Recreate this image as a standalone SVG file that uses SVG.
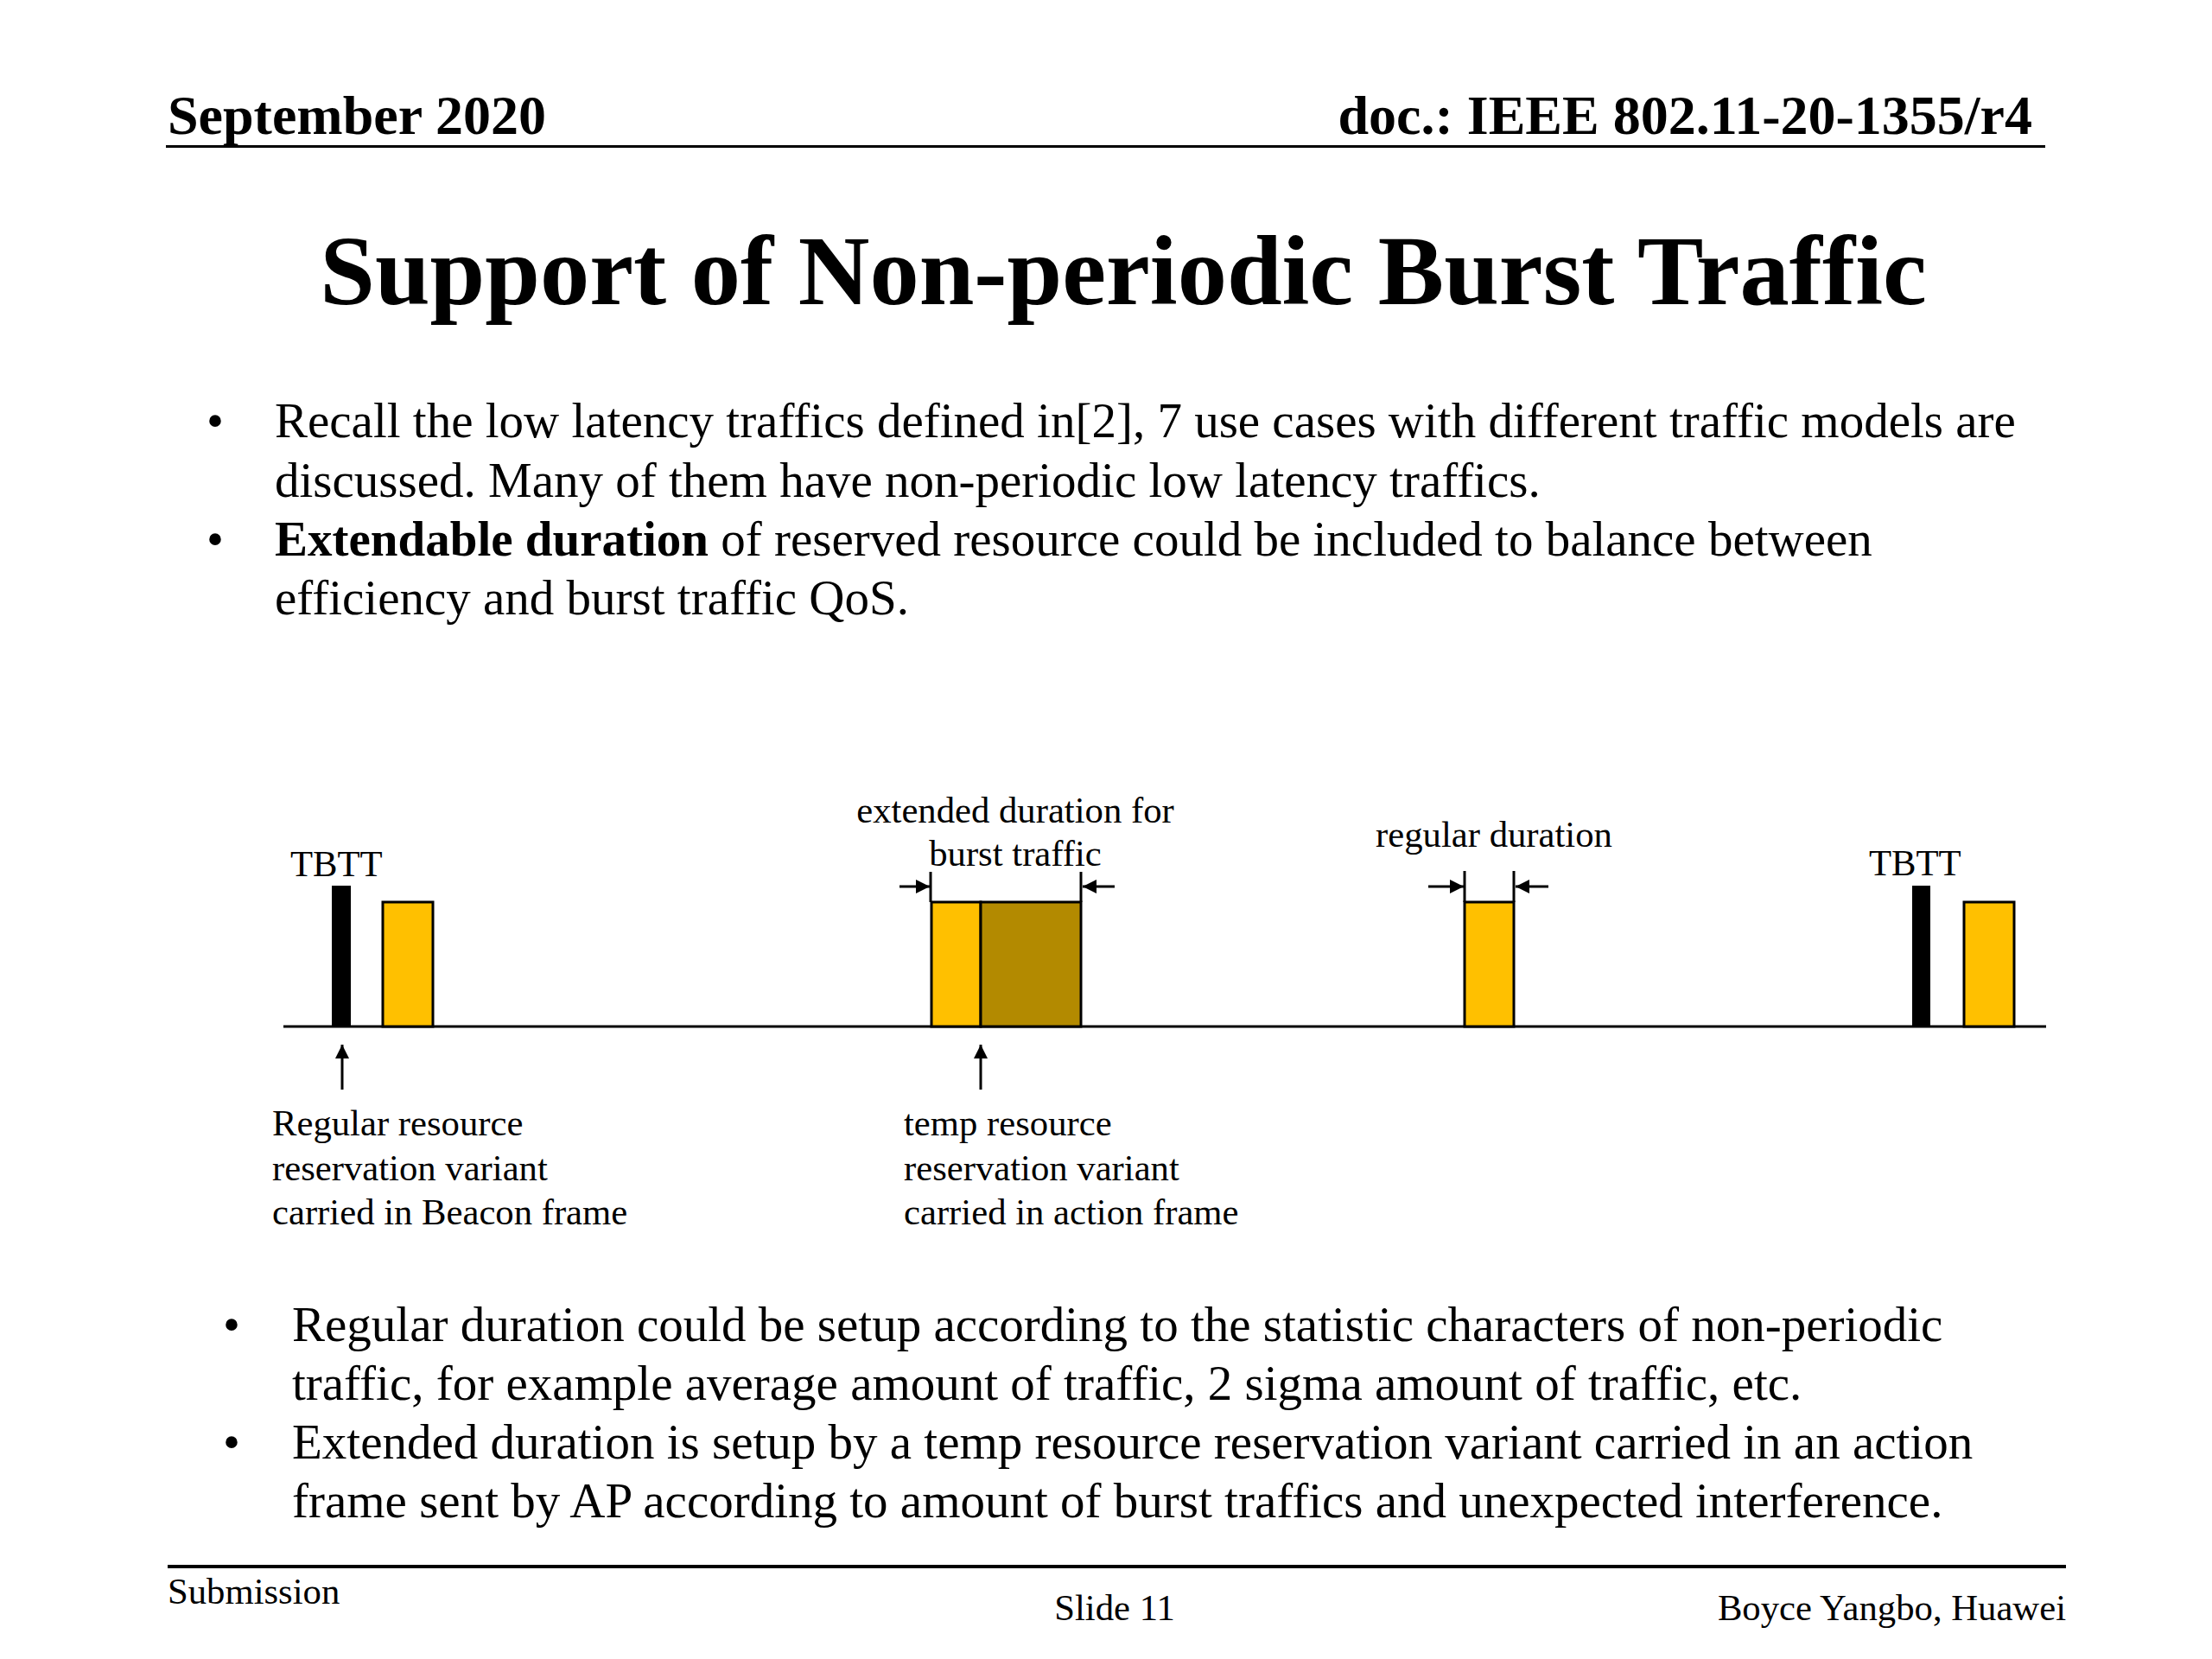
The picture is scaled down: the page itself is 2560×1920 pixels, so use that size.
<svg xmlns="http://www.w3.org/2000/svg" width="2560" height="1920" viewBox="0 0 2560 1920">
<style>
text{font-family:"Liberation Serif","Times New Roman",serif;fill:#000}
.hdr{font-size:64px;font-weight:bold}
.title{font-size:114.5px;font-weight:bold}
.body{font-size:57px}
.lbl{font-size:42.7px}
.ftr{font-size:42.7px}
.y{fill:#FFC000;stroke:#000;stroke-width:3}
.b{fill:#B38A00;stroke:#000;stroke-width:3}
.bar{fill:#000}
.ln{stroke:#000;stroke-width:3;fill:none}
</style>
<defs>
<marker id="ah" markerUnits="userSpaceOnUse" markerWidth="20" markerHeight="20" refX="16" refY="8" orient="auto">
<path d="M0,0 L16,8 L0,16 z" fill="#000"/>
</marker>
</defs>
<rect width="2560" height="1920" fill="#fff"/>
<g id="header">
<text class="hdr" x="194" y="155">September 2020</text>
<text class="hdr" x="2352" y="155" text-anchor="end">doc.: IEEE 802.11-20-1355/r4</text>
<rect x="192" y="168" width="2175" height="3" fill="#000"/>
</g>
<g id="title"><text class="title" x="1300" y="352" text-anchor="middle">Support of Non-periodic Burst Traffic</text></g>
<g id="bullets-top">
<text class="body" x="239" y="506">•</text>
<text class="body" x="318" y="506">Recall the low latency traffics defined in[2], 7 use cases with different traffic models are</text>
<text class="body" x="318" y="575">discussed. Many of them have non-periodic low latency traffics.</text>
<text class="body" x="239" y="643">•</text>
<text class="body" x="318" y="643"><tspan font-weight="bold">Extendable duration</tspan> of reserved resource could be included to balance between</text>
<text class="body" x="318" y="711">efficiency and burst traffic QoS.</text>
</g>
<g id="axis"><line class="ln" x1="328" y1="1188" x2="2368" y2="1188"/></g>
<g id="tbtt1">
<text class="lbl" x="336" y="1014">TBTT</text>
<rect class="bar" x="384" y="1025" width="22" height="164"/>
</g>
<g id="slot1"><rect class="y" x="443" y="1044" width="58" height="144"/></g>
<g id="slot-extended">
<rect class="y" x="1078" y="1044" width="57" height="144"/>
<rect class="b" x="1135" y="1044" width="116" height="144"/>
<text class="lbl" x="1175" y="952" text-anchor="middle">extended duration for</text>
<text class="lbl" x="1175" y="1002" text-anchor="middle">burst traffic</text>
</g>
<g id="slot-regular">
<rect class="y" x="1695" y="1044" width="57" height="144"/>
<text class="lbl" x="1729" y="980" text-anchor="middle">regular duration</text>
</g>
<g id="tbtt2">
<text class="lbl" x="2163" y="1013">TBTT</text>
<rect class="bar" x="2213" y="1025" width="21" height="164"/>
</g>
<g id="slot2"><rect class="y" x="2273" y="1044" width="58" height="144"/></g>
<g id="label-regular">
<text class="lbl" x="315" y="1314">Regular resource</text>
<text class="lbl" x="315" y="1366">reservation variant</text>
<text class="lbl" x="315" y="1417">carried in Beacon frame</text>
</g>
<g id="label-temp">
<text class="lbl" x="1046" y="1314">temp resource</text>
<text class="lbl" x="1046" y="1366">reservation variant</text>
<text class="lbl" x="1046" y="1417">carried in action frame</text>
</g>
<g id="connectors">
<line class="ln" x1="1077" y1="1009" x2="1077" y2="1044"/>
<line class="ln" x1="1251" y1="1009" x2="1251" y2="1044"/>
<line class="ln" x1="1041" y1="1026" x2="1076" y2="1026" marker-end="url(#ah)"/>
<line class="ln" x1="1290" y1="1026" x2="1253" y2="1026" marker-end="url(#ah)"/>
<line class="ln" x1="1695" y1="1008" x2="1695" y2="1044"/>
<line class="ln" x1="1752" y1="1008" x2="1752" y2="1044"/>
<line class="ln" x1="1653" y1="1026" x2="1694" y2="1026" marker-end="url(#ah)"/>
<line class="ln" x1="1792" y1="1026" x2="1754" y2="1026" marker-end="url(#ah)"/>
<line class="ln" x1="396" y1="1261" x2="396" y2="1209" marker-end="url(#ah)"/>
<line class="ln" x1="1135" y1="1261" x2="1135" y2="1209" marker-end="url(#ah)"/>
</g>
<g id="bullets-bottom">
<text class="body" x="258" y="1552">•</text>
<text class="body" x="338" y="1552">Regular duration could be setup according to the statistic characters of non-periodic</text>
<text class="body" x="338" y="1620">traffic, for example average amount of traffic, 2 sigma amount of traffic, etc.</text>
<text class="body" x="258" y="1688">•</text>
<text class="body" x="338" y="1688">Extended duration is setup by a temp resource reservation variant carried in an action</text>
<text class="body" x="338" y="1756">frame sent by AP according to amount of burst traffics and unexpected interference.</text>
</g>
<g id="footer">
<rect x="194" y="1811" width="2197" height="4" fill="#000"/>
<text class="ftr" x="194" y="1856">Submission</text>
<text class="ftr" x="1290" y="1875" text-anchor="middle">Slide 11</text>
<text class="ftr" x="2391" y="1875" text-anchor="end">Boyce Yangbo, Huawei</text>
</g>
</svg>
